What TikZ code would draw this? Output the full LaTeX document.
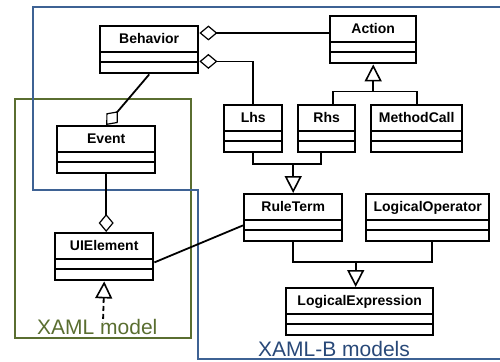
\documentclass[tikz,border=0pt]{standalone}
\usepackage{fontspec}
\setmainfont{Liberation Sans}
\usetikzlibrary{arrows.meta}
\definecolor{xamlgreen}{RGB}{90,110,48}
\definecolor{xamlblue}{RGB}{62,98,148}
\definecolor{xamlbtext}{RGB}{40,72,120}
\tikzset{
  umlclass/.style={draw, line width=2.4pt, fill=white, anchor=north west, inner sep=2pt,
    minimum height=47pt, text height=15.5pt, text depth=27.5pt,
    font=\fontsize{14}{16}\selectfont\bfseries,
    path picture={
      \draw[line width=1.6pt] ([yshift=11pt]path picture bounding box.south west) -- ([yshift=11pt]path picture bounding box.south east);
      \draw[line width=1.6pt] ([yshift=21pt]path picture bounding box.south west) -- ([yshift=21pt]path picture bounding box.south east);
    }},
  conn/.style={line width=1.8pt},
  aggr/.style={conn, {Diamond[open, length=18pt, width=15pt, line width=1.2pt]}-},
  gen/.style={conn, {Triangle[open, length=17pt, width=17pt, line width=1.6pt]}-},
  framelabel/.style={anchor=base west, inner sep=0pt, font=\fontsize{21}{24}\selectfont}
}
\begin{document}
\begin{tikzpicture}[x=1pt, y=-1pt]
    \useasboundingbox (0,0) rectangle (500,361);
    \draw [xamlgreen, line width=2.5pt] (15,99) rectangle (191,338);
    \draw [xamlblue, line width=2.5pt] (500,7) -- (33,7) -- (33,190) -- (198,190) -- (198,359) -- (500,359);
    \node [framelabel, text=xamlgreen] (xamllabel) at (37,334) {XAML model};
    \node [framelabel, text=xamlbtext] (xamlblabel) at (258,356) {XAML-B models};

    \node [umlclass, minimum width=98pt] (behavior) at (99,25) {Behavior};
    \node [umlclass, minimum width=86pt] (action) at (329,15) {Action};
    \node [umlclass, minimum width=58pt] (lhs) at (223,104) {Lhs};
    \node [umlclass, minimum width=57pt] (rhs) at (297,104) {Rhs};
    \node [umlclass, minimum width=91pt] (methodcall) at (370,104) {MethodCall};
    \node [umlclass, minimum width=98pt] (ruleterm) at (243,193) {RuleTerm};
    \node [umlclass, minimum width=123pt] (logop) at (365,193) {LogicalOperator};
    \node [umlclass, minimum width=147pt] (logexpr) at (285,287) {LogicalExpression};
    \node [umlclass, minimum width=98pt] (event) at (56,125) {Event};
    \node [umlclass, minimum width=98pt] (uielement) at (54,232) {UIElement};
    \coordinate (xamlbase) at (103,322);

    \draw [aggr] ([yshift=-8pt]behavior.north east) -- ([yshift=-8pt]behavior.north east -| action.west);
    \draw [aggr] ([yshift=13pt]behavior.south east) -| (lhs.north);
    \draw [aggr] (event.north) -- (behavior.south);
    \draw [aggr] (uielement.north -| event.south) -- (event.south);
    \draw [conn] ([yshift=19pt]uielement.south east) -- ([yshift=17pt]ruleterm.south west);

    \draw [gen] (action.south) -- ++(0,27) coordinate (actjoin);
    \draw [conn] ([xshift=6pt]rhs.north) |- (actjoin) -| (methodcall.north);
    \draw [gen] (ruleterm.north) -- ++(0,-29) coordinate (rtjoin);
    \draw [conn] (lhs.south) |- (rtjoin) -| ([xshift=-6pt]rhs.south);
    \draw [gen] ([xshift=-4pt]logexpr.north) -- ++(0,-25) coordinate (lejoin);
    \draw [conn] (ruleterm.south) |- (lejoin) -| ([xshift=4pt]logop.south);
    \draw [gen, dash pattern=on 5pt off 3pt] (uielement.south) -- (xamlbase);
  \end{tikzpicture}
\end{document}
